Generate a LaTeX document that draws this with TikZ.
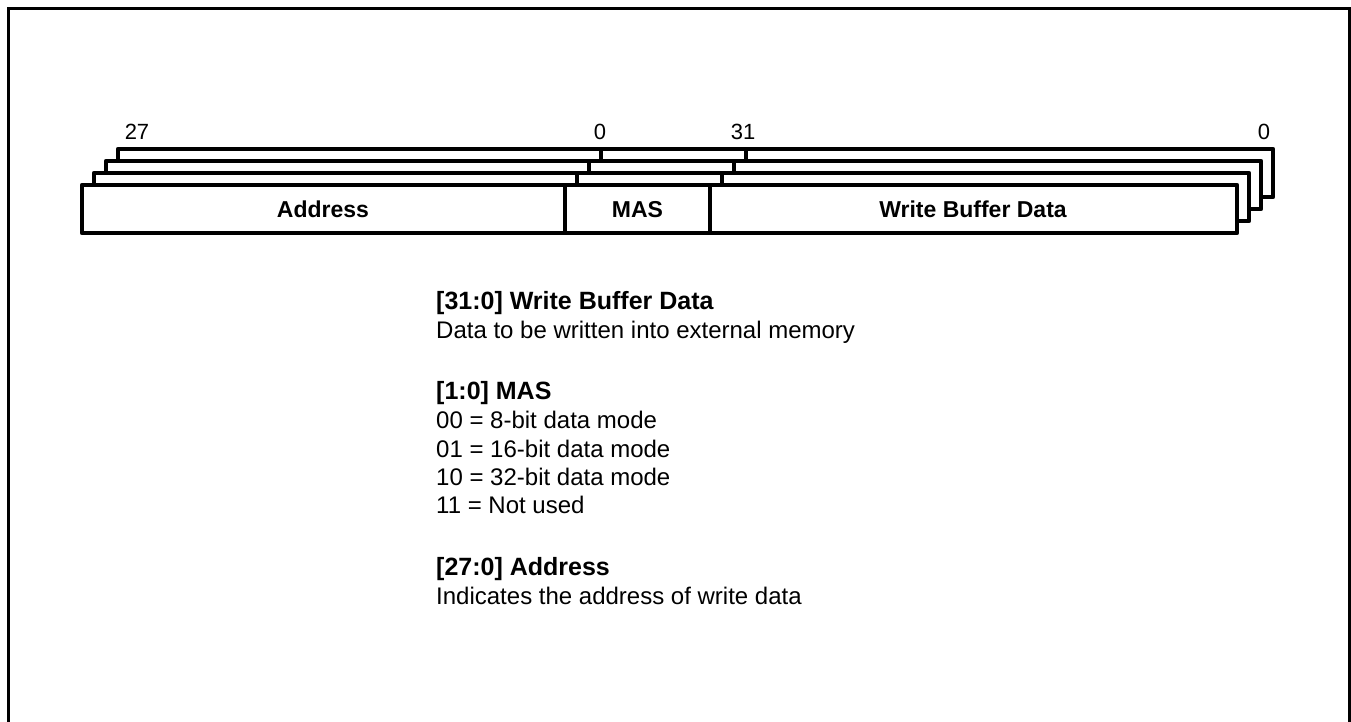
\documentclass[tikz,border=0pt]{standalone}
\usepackage{fontspec}
\setmainfont{Liberation Sans}
\begin{document}
\begin{tikzpicture}[x=1pt,y=-1pt,
  reg/.style={draw=black,fill=white,line width=4.5pt,line join=round},
  divider/.style={draw=black,line width=4.5pt},
  frame/.style={draw=black,line width=3.5pt},
  fieldlabel/.style={font=\fontsize{23}{27}\selectfont\bfseries,inner sep=0pt,anchor=base},
  bitlabel/.style={font=\fontsize{22}{26}\selectfont,inner sep=0pt,anchor=base},
  desctitle/.style={font=\fontsize{25}{29}\selectfont\bfseries,inner sep=0pt,anchor=base west},
  desctext/.style={font=\fontsize{24}{28}\selectfont,inner sep=0pt,anchor=base west}]
\useasboundingbox (0,0) rectangle (1351,721);
\begin{scope}
\clip (0,0) rectangle (1351,721);
\draw[frame] (8.5,740) -- (8.5,8.5) -- (1350,8.5) -- (1350,740);
\end{scope}
% stacked registers, back to front
\foreach \k in {3,2,1,0}{
  \begin{scope}[shift={(12*\k,-12*\k)}]
    \draw[reg] (82,185) rectangle (1237,233);
    \draw[divider] (565,185) -- (565,233);
    \draw[divider] (710,185) -- (710,233);
  \end{scope}
}
\node[fieldlabel] (addr) at (323,217) {Address};
\node[fieldlabel] (mas) at (637.5,217) {MAS};
\node[fieldlabel] (wbd) at (973,217) {Write Buffer Data};
\node[bitlabel] (b27) at (137,139) {27};
\node[bitlabel] (b0a) at (600,139) {0};
\node[bitlabel] (b31) at (743,139) {31};
\node[bitlabel] (b0b) at (1264,139) {0};
\node[desctitle] (t1) at (436,309) {[31:0] Write Buffer Data};
\node[desctext] (d1) at (436,338) {Data to be written into external memory};
\node[desctitle] (t2) at (436,399) {[1:0] MAS};
\node[desctext] (d2a) at (436,428) {00 = 8-bit data mode};
\node[desctext] (d2b) at (436,457) {01 = 16-bit data mode};
\node[desctext] (d2c) at (436,485) {10 = 32-bit data mode};
\node[desctext] (d2d) at (436,513) {11 = Not used};
\node[desctitle] (t3) at (436,575) {[27:0] Address};
\node[desctext] (d3) at (436,604) {Indicates the address of write data};
\end{tikzpicture}
\end{document}
